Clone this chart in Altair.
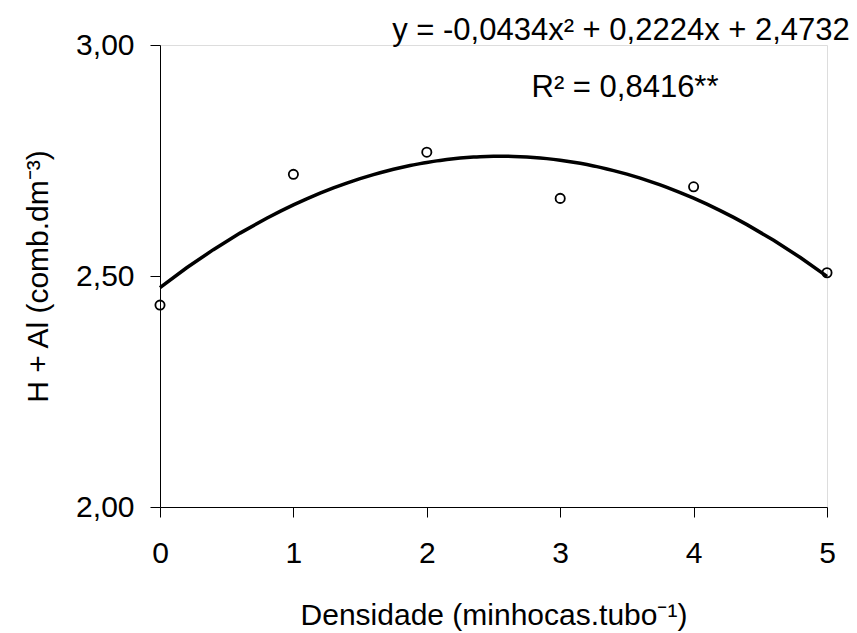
import altair as alt
import pandas as pd

# Data
densidade = [0, 1, 2, 3, 4, 5]
h_al = [2.437, 2.720, 2.768, 2.668, 2.693, 2.507]
x_ticks = [0, 1, 2, 3, 4, 5]
y_ticks = [2.0, 2.5, 3.0]
eq_line1 = "y = -0,0434x² + 0,2224x + 2,4732"
eq_line2 = "R² = 0,8416**"
x_title = "Densidade (minhocas.tubo⁻¹)"
y_title = "H + Al (comb.dm⁻³)"

df = pd.DataFrame({"x": densidade, "y": h_al})
FONT = "Liberation Sans"

x_enc = alt.X("x:Q", scale=alt.Scale(domain=[0, 5], nice=False, zero=False),
              axis=alt.Axis(values=x_ticks, title=x_title, format="d",
                            labelFontSize=30, titleFontSize=30, titleFontWeight="normal",
                            tickSize=10, labelPadding=21, titlePadding=32, labelFlush=False,
                            domainColor="black", tickColor="black", labelColor="black",
                            titleColor="black", grid=False, labelFont=FONT, titleFont=FONT))
y_enc = alt.Y("y:Q", scale=alt.Scale(domain=[2, 3], nice=False, zero=False),
              axis=alt.Axis(values=y_ticks, title=y_title,
                            labelExpr="replace(format(datum.value, '.2f'), '.', ',')",
                            labelFontSize=30, titleFontSize=30, titleFontWeight="normal",
                            tickSize=10, labelPadding=16, titlePadding=22, labelFlush=False,
                            domainColor="black", tickColor="black", labelColor="black",
                            titleColor="black", grid=False, labelFont=FONT, titleFont=FONT))

base = alt.Chart(df)

curve = base.transform_regression(
    "x", "y", method="poly", order=2, extent=[0, 5]
).mark_line(color="black", strokeWidth=3.5).encode(x=x_enc, y=y_enc)

points = base.mark_point(shape="circle", filled=False, color="black",
                         strokeWidth=1.8, size=85, opacity=1).encode(x="x:Q", y="y:Q")

eq1 = alt.Chart(pd.DataFrame({"t": [eq_line1]})).mark_text(
    font=FONT, fontSize=31, color="black", align="center", baseline="alphabetic"
).encode(text="t:N", x=alt.value(461), y=alt.value(-5))
eq2 = alt.Chart(pd.DataFrame({"t": [eq_line2]})).mark_text(
    font=FONT, fontSize=31, color="black", align="center", baseline="alphabetic"
).encode(text="t:N", x=alt.value(465), y=alt.value(52))

chart = alt.layer(curve, points, eq1, eq2).properties(
    width=667, height=462,
    autosize=alt.AutoSizeParams(type="none"),
    padding={"left": 160, "top": 45, "right": 30, "bottom": 126},
).configure_view(stroke=None).configure(background="white")

chart.save("out.html", embed_options={"renderer": "svg", "actions": False})
